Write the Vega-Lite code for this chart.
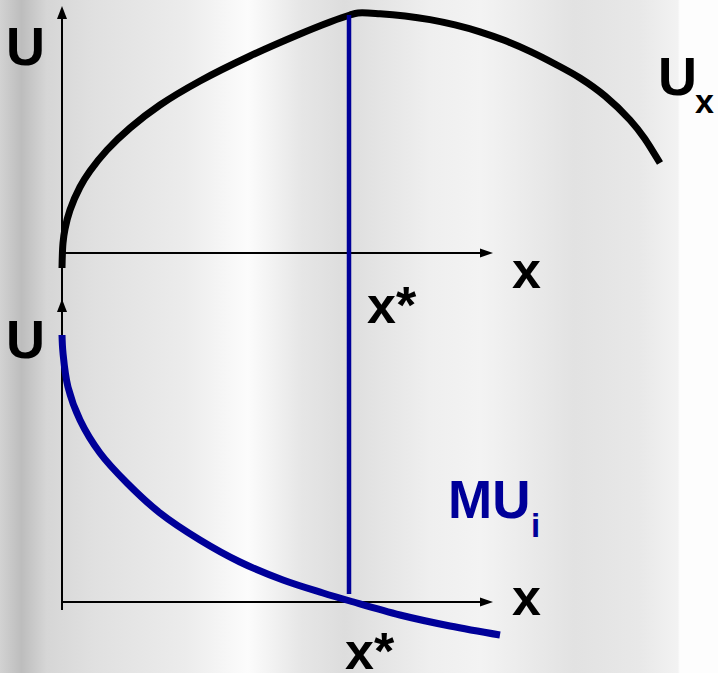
{
  "$schema": "https://vega.github.io/schema/vega-lite/v6.json",
  "width": 718,
  "height": 673,
  "padding": 0,
  "autosize": {"type": "none"},
  "background": "#ffffff",
  "config": {"view": {"stroke": null}},
  "encoding": {
    "x": {"field": "x", "type": "quantitative", "axis": null, "scale": {"domain": [-62, 656], "nice": false, "zero": false}},
    "y": {"field": "y", "type": "quantitative", "axis": null, "scale": {"domain": [-70, 603], "nice": false, "zero": false}}
  },
  "layer": [
    {
      "data": {"values": [{"x": -62, "x2": 656, "y": -70, "y2": 603}]},
      "mark": {"type": "rect", "fill": {"gradient": "linear", "x1": 0, "y1": 0, "x2": 1, "y2": 0, "stops": [
        {"offset": 0, "color": "#d2d2d2"},
        {"offset": 0.03, "color": "#bdbdbd"},
        {"offset": 0.065, "color": "#d6d6d6"},
        {"offset": 0.13, "color": "#e0e0e0"},
        {"offset": 0.26, "color": "#ececec"},
        {"offset": 0.345, "color": "#fcfcfc"},
        {"offset": 0.42, "color": "#e6e6e6"},
        {"offset": 0.48, "color": "#dddddd"},
        {"offset": 0.6, "color": "#efefef"},
        {"offset": 0.67, "color": "#f3f3f3"},
        {"offset": 0.8, "color": "#e2e2e2"},
        {"offset": 0.89, "color": "#e8e8e8"},
        {"offset": 0.944, "color": "#f2f2f2"},
        {"offset": 0.947, "color": "#fdfdfd"},
        {"offset": 1, "color": "#fdfdfd"}
      ]}},
      "encoding": {"x2": {"field": "x2"}, "y2": {"field": "y2"}}
    },
    {
      "data": {"values": [
        {"x": 0, "y": -7, "x2": 0, "y2": 592},
        {"x": 0, "y": 350, "x2": 424, "y2": 350},
        {"x": 0, "y": 1, "x2": 424, "y2": 1}
      ]},
      "mark": {"type": "rule", "color": "#000000", "strokeWidth": 2},
      "encoding": {"x2": {"field": "x2"}, "y2": {"field": "y2"}}
    },
    {
      "data": {"values": [{"x": 0, "y": 590.5}, {"x": 0, "y": 297.5}]},
      "mark": {"type": "point", "shape": "M0,-1L0.77,1L-0.77,1Z", "filled": true, "color": "#000000", "size": 169, "opacity": 1, "strokeWidth": 0}
    },
    {
      "data": {"values": [{"x": 424.5, "y": 350}, {"x": 424.5, "y": 1}]},
      "mark": {"type": "point", "shape": "M1,0L-1,0.69L-1,-0.69Z", "filled": true, "color": "#000000", "size": 169, "opacity": 1, "strokeWidth": 0}
    },
    {
      "data": {"values": [
        {"x": 0, "y": 335}, {"x": 1, "y": 360}, {"x": 3, "y": 374}, {"x": 8, "y": 393},
        {"x": 18, "y": 416}, {"x": 28, "y": 432}, {"x": 45, "y": 453}, {"x": 68, "y": 475},
        {"x": 98, "y": 498}, {"x": 138, "y": 522}, {"x": 188, "y": 547}, {"x": 238, "y": 569},
        {"x": 268, "y": 581}, {"x": 288, "y": 588}, {"x": 296, "y": 590}, {"x": 318, "y": 589.3},
        {"x": 343, "y": 587.1}, {"x": 368, "y": 583.4}, {"x": 393, "y": 578.1}, {"x": 418, "y": 571.2},
        {"x": 443, "y": 562.4}, {"x": 468, "y": 551.6}, {"x": 493, "y": 539}, {"x": 518, "y": 525},
        {"x": 543, "y": 507}, {"x": 568, "y": 483}, {"x": 583, "y": 464}, {"x": 598, "y": 440}
      ]},
      "mark": {"type": "line", "color": "#000000", "strokeWidth": 7, "interpolate": "catmull-rom", "strokeCap": "butt"}
    },
    {
      "data": {"values": [
        {"x": 0, "y": 268}, {"x": 1, "y": 250}, {"x": 6, "y": 216}, {"x": 18, "y": 183},
        {"x": 38, "y": 150}, {"x": 65, "y": 120}, {"x": 98, "y": 90}, {"x": 138, "y": 63},
        {"x": 178, "y": 41}, {"x": 221, "y": 23}, {"x": 261, "y": 10}, {"x": 288, "y": 2},
        {"x": 338, "y": -12}, {"x": 388, "y": -23}, {"x": 438, "y": -32}
      ]},
      "mark": {"type": "line", "color": "#000099", "strokeWidth": 7, "interpolate": "catmull-rom", "strokeCap": "butt"}
    },
    {
      "data": {"values": [{"x": 287, "y": 9, "y2": 588}]},
      "mark": {"type": "rule", "color": "#000099", "strokeWidth": 4.5},
      "encoding": {"y2": {"field": "y2"}}
    },
    {
      "data": {"values": [
        {"x": -56, "y": 538, "t": "U"},
        {"x": -56, "y": 245, "t": "U"},
        {"x": 596, "y": 508, "t": "U"}
      ]},
      "mark": {"type": "text", "font": "Liberation Sans", "fontWeight": "bold", "fontSize": 54, "align": "left", "baseline": "alphabetic", "color": "#000000"},
      "encoding": {"text": {"field": "t"}}
    },
    {
      "data": {"values": [
        {"x": 450, "y": 315, "t": "x"},
        {"x": 305, "y": 280, "t": "x*"},
        {"x": 450, "y": -12, "t": "x"},
        {"x": 283, "y": -66, "t": "x*"}
      ]},
      "mark": {"type": "text", "font": "Liberation Sans", "fontWeight": "bold", "fontSize": 52, "align": "left", "baseline": "alphabetic", "color": "#000000"},
      "encoding": {"text": {"field": "t"}}
    },
    {
      "data": {"values": [{"x": 633, "y": 490, "t": "x"}]},
      "mark": {"type": "text", "font": "Liberation Sans", "fontWeight": "bold", "fontSize": 34, "align": "left", "baseline": "alphabetic", "color": "#000000"},
      "encoding": {"text": {"field": "t"}}
    },
    {
      "data": {"values": [{"x": 386, "y": 85, "t": "MU"}]},
      "mark": {"type": "text", "font": "Liberation Sans", "fontWeight": "bold", "fontSize": 53, "align": "left", "baseline": "alphabetic", "color": "#000099"},
      "encoding": {"text": {"field": "t"}}
    },
    {
      "data": {"values": [{"x": 469, "y": 66, "t": "i"}]},
      "mark": {"type": "text", "font": "Liberation Sans", "fontWeight": "bold", "fontSize": 33, "align": "left", "baseline": "alphabetic", "color": "#000099"},
      "encoding": {"text": {"field": "t"}}
    }
  ]
}
